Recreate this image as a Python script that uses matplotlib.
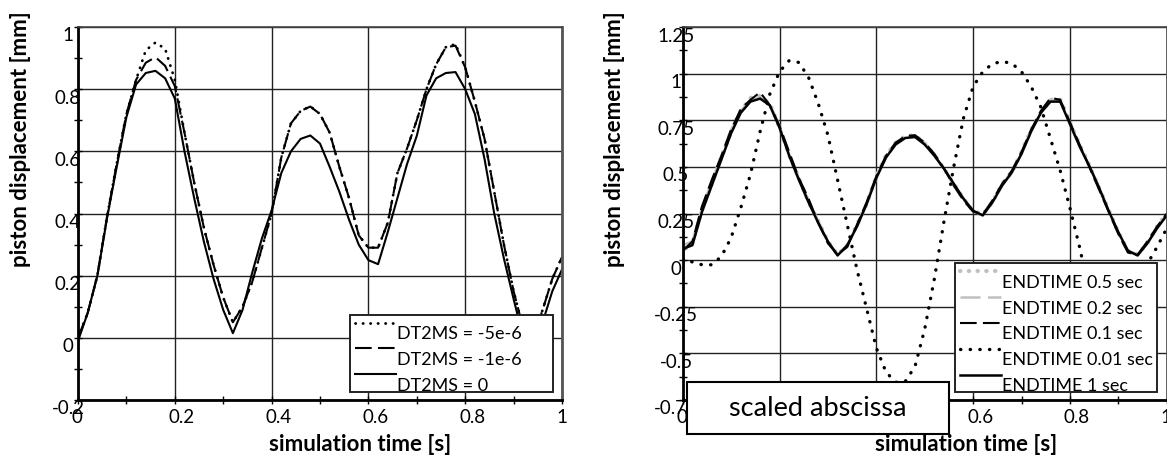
import numpy as np
import matplotlib
matplotlib.use("Agg")
import matplotlib.pyplot as plt
import matplotlib.transforms as mtransforms
from matplotlib.patches import Rectangle
from matplotlib.lines import Line2D
from matplotlib.legend_handler import HandlerLine2D
from matplotlib.ticker import MultipleLocator, FuncFormatter

plt.rcParams['font.family'] = ['Lato', 'DejaVu Sans']

# sample times (simulation time / scaled abscissa), step 0.02
time_s = np.round(np.arange(0, 1.0001, 0.02), 2)

# ---- left chart: DT2MS study
dt2ms_5e6 = [0.0, 0.08, 0.2, 0.39, 0.56, 0.72, 0.83, 0.925, 0.95, 0.93,
             0.83, 0.66, 0.50, 0.355, 0.235, 0.13, 0.05, 0.10, 0.18, 0.29,
             0.40, 0.58, 0.69, 0.73, 0.745, 0.72, 0.66, 0.55, 0.45, 0.33,
             0.29, 0.29, 0.37, 0.53, 0.61, 0.70, 0.80, 0.88, 0.935, 0.945,
             0.87, 0.76, 0.64, 0.47, 0.30, 0.15, 0.03, 0.0, 0.09, 0.19, 0.26]
dt2ms_1e6 = [0.0, 0.08, 0.2, 0.39, 0.56, 0.72, 0.83, 0.885, 0.903, 0.875,
             0.81, 0.66, 0.50, 0.355, 0.235, 0.13, 0.05, 0.10, 0.18, 0.29,
             0.40, 0.58, 0.69, 0.73, 0.744, 0.72, 0.66, 0.55, 0.45, 0.33,
             0.29, 0.29, 0.37, 0.53, 0.61, 0.70, 0.80, 0.88, 0.935, 0.94,
             0.87, 0.76, 0.64, 0.47, 0.30, 0.15, 0.03, 0.0, 0.09, 0.19, 0.26]
dt2ms_0 = [-0.01, 0.08, 0.2, 0.385, 0.55, 0.71, 0.815, 0.852, 0.859, 0.835,
           0.77, 0.60, 0.45, 0.31, 0.19, 0.09, 0.015, 0.09, 0.21, 0.32,
           0.41, 0.53, 0.60, 0.64, 0.651, 0.625, 0.55, 0.47, 0.38, 0.30,
           0.25, 0.237, 0.34, 0.45, 0.56, 0.65, 0.78, 0.835, 0.852, 0.855,
           0.80, 0.72, 0.575, 0.40, 0.255, 0.125, 0.0, -0.03, 0.05, 0.15, 0.22]
left_labels = ['DT2MS = -5e-6', 'DT2MS = -1e-6', 'DT2MS = 0']

# ---- right chart: ENDTIME study (scaled abscissa)
end_05_t = np.concatenate([[0.0], time_s])
end_05 = [0.5, 0.05, 0.09, 0.27, 0.41, 0.55, 0.69, 0.80, 0.87, 0.88, 0.84,
          0.71, 0.56, 0.44, 0.31, 0.21, 0.10, 0.03, 0.08, 0.19, 0.30,
          0.45, 0.56, 0.63, 0.665, 0.67, 0.625, 0.565, 0.49, 0.41, 0.33,
          0.265, 0.245, 0.31, 0.41, 0.47, 0.58, 0.70, 0.79, 0.86, 0.86,
          0.74, 0.62, 0.51, 0.39, 0.27, 0.15, 0.05, 0.03, 0.09, 0.18, 0.25]
end_02 = [0.08, 0.10, 0.28, 0.42, 0.56, 0.70, 0.80, 0.86, 0.87, 0.84,
          0.72, 0.57, 0.44, 0.32, 0.21, 0.10, 0.03, 0.08, 0.18, 0.31,
          0.45, 0.55, 0.63, 0.66, 0.665, 0.63, 0.56, 0.49, 0.40, 0.33,
          0.26, 0.24, 0.32, 0.40, 0.48, 0.57, 0.70, 0.79, 0.86, 0.855,
          0.74, 0.61, 0.51, 0.39, 0.26, 0.15, 0.05, 0.03, 0.09, 0.17, 0.245]
end_01 = [0.05, 0.10, 0.29, 0.43, 0.56, 0.70, 0.81, 0.86, 0.90, 0.83,
          0.72, 0.58, 0.44, 0.33, 0.20, 0.09, 0.03, 0.07, 0.19, 0.31,
          0.45, 0.56, 0.63, 0.665, 0.67, 0.63, 0.57, 0.49, 0.40, 0.32,
          0.26, 0.245, 0.32, 0.41, 0.48, 0.58, 0.70, 0.80, 0.87, 0.86,
          0.74, 0.62, 0.50, 0.38, 0.26, 0.14, 0.04, 0.03, 0.10, 0.18, 0.25]
end_001 = [0.01, -0.01, -0.025, -0.025, 0.02, 0.12, 0.28, 0.46, 0.69, 0.89,
           1.01, 1.07, 1.06, 0.98, 0.84, 0.67, 0.43, 0.19, -0.05, -0.26,
           -0.47, -0.60, -0.655, -0.65, -0.57, -0.37, -0.10, 0.21, 0.50, 0.76,
           0.93, 1.01, 1.053, 1.065, 1.055, 1.01, 0.93, 0.82, 0.65, 0.48,
           0.28, 0.07, -0.17, -0.38, -0.50, -0.50, -0.38, -0.18, -0.02, 0.07, 0.17]
end_1 = [0.06, 0.08, 0.26, 0.40, 0.54, 0.68, 0.79, 0.85, 0.866, 0.83,
         0.71, 0.56, 0.43, 0.31, 0.20, 0.10, 0.025, 0.08, 0.18, 0.30,
         0.44, 0.55, 0.62, 0.655, 0.66, 0.62, 0.56, 0.49, 0.41, 0.33,
         0.265, 0.24, 0.31, 0.40, 0.47, 0.57, 0.69, 0.79, 0.85, 0.85,
         0.73, 0.61, 0.505, 0.39, 0.265, 0.15, 0.05, 0.025, 0.09, 0.17, 0.24]
right_labels = ['ENDTIME 0.5 sec', 'ENDTIME 0.2 sec', 'ENDTIME 0.1 sec',
                'ENDTIME 0.01 sec', 'ENDTIME 1 sec']

DOT = (0, (0.1, 2.6))
DASH = (0, (8, 3))
GRAY = '#c0c0c0'
FS = 13.5       # tick labels
LFS = 13        # legend entries
TFS = 16        # axis titles


class RaisedLine(HandlerLine2D):
    # legend sample sits a bit higher than its text, like the original
    def create_artists(self, legend, orig_handle, xdescent, ydescent,
                       width, height, fontsize, trans):
        arts = super().create_artists(legend, orig_handle, xdescent, ydescent,
                                      width, height, fontsize, trans)
        for a in arts:
            a.set_ydata(np.asarray(a.get_ydata()) + 0.75 * height)
        return arts


def style_axes(ax, ymin, ymax, ystep, ypad):
    ax.set_xlim(0, 1)
    ax.set_ylim(ymin, ymax)
    ax.xaxis.set_major_locator(MultipleLocator(0.2))
    ax.xaxis.set_minor_locator(MultipleLocator(0.1))
    ax.yaxis.set_major_locator(MultipleLocator(ystep))
    ax.yaxis.set_minor_locator(MultipleLocator(ystep / 2))
    fmt = FuncFormatter(lambda v, p: '%g' % round(v, 3))
    ax.xaxis.set_major_formatter(fmt)
    ax.yaxis.set_major_formatter(fmt)
    ax.grid(True, which='major', color='#222222', lw=1.0)
    ax.set_axisbelow(True)
    ax.tick_params(which='both', direction='inout', length=6, width=1,
                   color='black', labelsize=FS)
    ax.tick_params(axis='y', pad=ypad)
    ax.tick_params(axis='x', pad=8.9)
    for side in ['left', 'bottom']:
        ax.spines[side].set_linewidth(2.0)
        ax.spines[side].set_color('black')
    ax.spines['top'].set_linewidth(1.2)
    ax.spines['top'].set_color('#444444')
    ax.spines['right'].set_linewidth(2.0)
    ax.spines['right'].set_color('#555555')
    fig.canvas.draw()
    dy = mtransforms.ScaledTranslation(0, -8 / 100, fig.dpi_scale_trans)
    for lab in ax.get_yticklabels():
        lab.set_ha('center')
        lab.set_va('center')
        lab.set_transform(lab.get_transform() + dy)
    dx = mtransforms.ScaledTranslation(-6 / 100, 0, fig.dpi_scale_trans)
    for lab in ax.get_xticklabels():
        lab.set_ha('left')
        lab.set_va('center')
        lab.set_transform(lab.get_transform() + dx)


def frame_legend(ax, x0, y0, x1, y1, labelspacing):
    box = Rectangle((x0, y0), x1 - x0, y1 - y0, transform=ax.transAxes,
                    fc='white', ec='#222222', lw=1.2, zorder=4)
    ax.add_patch(box)
    leg = ax.legend(loc='upper left', bbox_to_anchor=(x0, y1 - 0.016),
                    frameon=False, fontsize=LFS, handlelength=2.3,
                    handletextpad=0.05, borderpad=0.25, borderaxespad=0,
                    labelspacing=labelspacing,
                    handler_map={Line2D: RaisedLine()})
    leg.set_zorder(5)
    # texts running past the frame are cut by it
    for t in leg.get_texts():
        t.set_clip_path(box)
    # frame edge drawn again over the entries
    ax.add_patch(Rectangle((x0, y0), x1 - x0, y1 - y0, transform=ax.transAxes,
                           fc='none', ec='#222222', lw=1.2, zorder=6))


W, H = 1167, 456
fig = plt.figure(figsize=(W / 100, H / 100), dpi=100)
ax1 = fig.add_axes([78 / W, 1 - 401 / H, 484 / W, 373 / H])
ax2 = fig.add_axes([682.7 / W, 1 - 401 / H, 484 / W, 373 / H])

# left chart
ax1.plot(time_s, dt2ms_5e6, color='black', lw=2.0, ls=DOT,
         dash_capstyle='round', label=left_labels[0])
ax1.plot(time_s, dt2ms_1e6, color='black', lw=1.5, ls=DASH,
         label=left_labels[1])
ax1.plot(time_s, dt2ms_0, color='black', lw=1.5, label=left_labels[2])
style_axes(ax1, -0.2, 1.0, 0.2, 4.2)
frame_legend(ax1, 0.562, 0.0214, 0.981, 0.228, 0.53)

# right chart
ax2.plot(end_05_t, end_05, color=GRAY, lw=3.0, ls=(0, (0.1, 2.0)),
         dash_capstyle='round', label=right_labels[0])
ax2.plot(time_s, end_02, color=GRAY, lw=1.8, ls=DASH, label=right_labels[1])
ax2.plot(time_s, end_01, color='black', lw=1.5, ls=DASH, label=right_labels[2])
ax2.plot(time_s, end_001, color='black', lw=2.4, ls=(0, (0.1, 2.8)),
         dash_capstyle='round', label=right_labels[3])
ax2.plot(time_s, end_1, color='black', lw=1.8, label=right_labels[4])
style_axes(ax2, -0.75, 1.25, 0.25, 1.8)
frame_legend(ax2, 0.5626, 0.0214, 0.98, 0.367, 0.55)

# axis titles
for x in [21, 614]:
    fig.text(x / W, 1 - 139 / H, 'piston displacement [mm]', rotation=90,
             ha='center', va='center', fontsize=TFS, fontweight='bold')
for x in [360.5, 965.7]:
    fig.text(x / W, 1 - 445 / H, 'simulation time [s]', ha='center',
             va='center', fontsize=TFS, fontweight='bold')

# "scaled abscissa" note box
fig.add_artist(Rectangle((686.7 / W, 1 - 435 / H), 262.3 / W, 52.3 / H,
                         transform=fig.transFigure, fc='white', ec='black',
                         lw=1.5, zorder=10))
fig.text(818 / W, 1 - 409 / H, 'scaled abscissa', ha='center', va='center',
         fontsize=19.5, zorder=11)

fig.savefig('out.png', dpi=100)
